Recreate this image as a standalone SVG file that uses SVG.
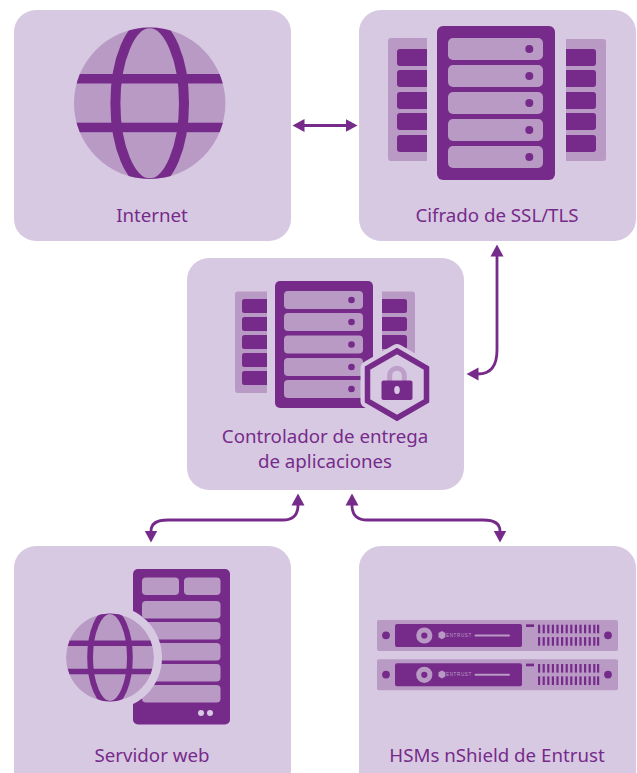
<svg xmlns="http://www.w3.org/2000/svg" xmlns:xlink="http://www.w3.org/1999/xlink" width="637" height="773" viewBox="0 0 637 773">
<style>
.card{fill:#d8c9e2}
.mid{fill:#b89ac4}
.dark{fill:#762b8a}
.bg{fill:#d8c9e2}
.lbl{font-family:"Noto Sans","Open Sans",sans-serif;font-size:18.7px;fill:#762b8a;text-anchor:middle}
.conn{fill:none;stroke:#762b8a;stroke-width:2.8;marker-start:url(#ah);marker-end:url(#ah)}
.brand{font-family:"Liberation Sans",sans-serif;font-size:4.6px;fill:#b89ac4;letter-spacing:.6px}
</style>
<defs>
<marker id="ah" markerUnits="userSpaceOnUse" markerWidth="14" markerHeight="16" refX="0.5" refY="7" orient="auto-start-reverse" viewBox="0 0 14 14"><path d="M0,0.5 L12,7 L0,13.5Z" fill="#762b8a"/></marker>
<clipPath id="gc"><circle cx="0" cy="0" r="75.700"/></clipPath>
<g id="vents">
<rect x="538" y="624.7" width="2.200" height="8.6"/><rect x="542.6" y="624.7" width="2.200" height="8.6"/><rect x="547.2" y="624.7" width="2.200" height="8.6"/><rect x="551.8" y="624.7" width="2.200" height="8.6"/><rect x="556.4" y="624.7" width="2.200" height="8.6"/><rect x="561" y="624.7" width="2.200" height="8.6"/><rect x="565.6" y="624.7" width="2.200" height="8.6"/><rect x="570.2" y="624.7" width="2.200" height="8.6"/><rect x="574.8" y="624.7" width="2.200" height="8.6"/><rect x="579.4" y="624.7" width="2.200" height="8.6"/><rect x="584" y="624.7" width="2.200" height="8.6"/><rect x="588.6" y="624.7" width="2.200" height="8.6"/><rect x="593.2" y="624.7" width="2.200" height="8.6"/><rect x="597" y="624.7" width="2.200" height="8.6"/>
</g>
<g id="hsm">
<rect class="mid" x="377" y="620" width="241" height="31" rx="2"/>
<rect class="dark" x="395" y="624" width="127" height="23" rx="2"/>
<circle class="dark" cx="386" cy="635.3" r="3.9"/><circle class="dark" cx="608" cy="635.3" r="3.9"/>
<circle cx="424.3" cy="635.5" r="5.6" fill="none" stroke="#b89ac4" stroke-width="5"/>
<path class="mid" d="M438.500,633l3.400,-1.900l3.400,1.900v4.200l-3.400,2l-3.400,-2z"/>
<text class="brand" x="446" y="637.200">ENTRUST</text>
<rect class="mid" x="474.500" y="634.500" width="35.500" height="2" rx="1"/>
<rect class="dark" x="526" y="624.300" width="8" height="2.700"/>
<use xlink:href="#vents" class="dark"/>
<use xlink:href="#vents" class="dark" y="12.400"/>
</g>
<g id="globe">
<circle class="mid" cx="0" cy="0" r="75.700"/>
<g clip-path="url(#gc)">
<ellipse cx="0" cy="0" rx="34.300" ry="80" fill="none" stroke="#762b8a" stroke-width="10"/>
<rect class="dark" x="-76" y="-29.300" width="152" height="9.500"/>
<rect class="dark" x="-76" y="19.400" width="152" height="9.500"/>
</g>
</g>
</defs>

<g id="connectors">
<path class="conn" d="M304,125.500H346"/>
<path class="conn" d="M497,256V350Q497,374 478,374"/>
<path class="conn" d="M298,505Q298,520 283,520H168Q151,520 151,531"/>
<path class="conn" d="M352,505Q352,520 367,520H483Q500,520 500,531"/>
</g>

<g id="node-internet">
<rect class="card" x="14" y="10" width="277" height="231" rx="22"/>
<use xlink:href="#globe" transform="translate(149.700,103.300)"/>
<text class="lbl" x="152" y="221.500">Internet</text>
</g>

<g id="node-ssl">
<rect class="card" x="359" y="10" width="277" height="231" rx="22"/>
<rect class="mid" x="388" y="38" width="60" height="123" rx="3"/>
<rect class="mid" x="546" y="39" width="60" height="122" rx="3"/>
<g class="dark">
<rect x="397" y="49" width="50" height="17" rx="3"/><rect x="397" y="70" width="50" height="17" rx="3"/><rect x="397" y="92" width="50" height="17" rx="3"/><rect x="397" y="113" width="50" height="17" rx="3"/><rect x="397" y="135" width="50" height="17" rx="3"/>
<rect x="546" y="49" width="50" height="17" rx="3"/><rect x="546" y="70" width="50" height="17" rx="3"/><rect x="546" y="92" width="50" height="17" rx="3"/><rect x="546" y="113" width="50" height="17" rx="3"/><rect x="546" y="135" width="50" height="17" rx="3"/>
</g>
<rect class="bg" x="427" y="30" width="139" height="140"/>
<rect class="dark" x="437" y="26" width="118" height="154" rx="6"/>
<g class="mid">
<rect x="448" y="38" width="95" height="22" rx="5"/><rect x="448" y="65" width="95" height="22" rx="5"/><rect x="448" y="92" width="95" height="22" rx="5"/><rect x="448" y="119" width="95" height="22" rx="5"/><rect x="448" y="146" width="95" height="22" rx="5"/>
</g>
<g class="dark">
<circle cx="529.300" cy="49" r="4"/><circle cx="529.300" cy="76" r="4"/><circle cx="529.300" cy="103" r="4"/><circle cx="529.300" cy="130" r="4"/><circle cx="529.300" cy="157" r="4"/>
</g>
<text class="lbl" x="497" y="222">Cifrado de SSL/TLS</text>
</g>

<g id="node-adc">
<rect class="card" x="187" y="258" width="277" height="232" rx="22"/>
<rect class="mid" x="235" y="291.500" width="50" height="101.500" rx="3"/>
<rect class="mid" x="365" y="291.500" width="50" height="101.500" rx="3"/>
<g class="dark">
<rect x="242" y="299" width="40" height="14" rx="2.500"/><rect x="242" y="317" width="40" height="14" rx="2.500"/><rect x="242" y="335" width="40" height="14" rx="2.500"/><rect x="242" y="353" width="40" height="14" rx="2.500"/><rect x="242" y="371" width="40" height="14" rx="2.500"/>
<rect x="367" y="299" width="40" height="14" rx="2.500"/><rect x="367" y="317" width="40" height="14" rx="2.500"/><rect x="367" y="335" width="40" height="14" rx="2.500"/><rect x="367" y="353" width="40" height="14" rx="2.500"/><rect x="367" y="371" width="40" height="14" rx="2.500"/>
</g>
<rect class="bg" x="267" y="285" width="115" height="115"/>
<rect class="dark" x="275" y="281" width="98" height="127" rx="5"/>
<g class="mid">
<rect x="284" y="291" width="79" height="18" rx="4"/><rect x="284" y="313" width="79" height="18" rx="4"/><rect x="284" y="335.500" width="79" height="18" rx="4"/><rect x="284" y="358" width="79" height="18" rx="4"/><rect x="284" y="380" width="79" height="18" rx="4"/>
</g>
<g class="dark">
<circle cx="351.500" cy="300" r="3.300"/><circle cx="351.500" cy="322" r="3.300"/><circle cx="351.500" cy="344.500" r="3.300"/><circle cx="351.500" cy="367" r="3.300"/><circle cx="351.500" cy="389" r="3.300"/>
</g>
<polygon points="397,351 426.500,368 426.500,401 397,418 367.500,401 367.500,368" fill="#d8c9e2" stroke="#d8c9e2" stroke-width="14" stroke-linejoin="round"/>
<polygon points="397,351 426.500,368 426.500,401 397,418 367.500,401 367.500,368" fill="#d8c9e2" stroke="#762b8a" stroke-width="5.500"/>
<path d="M389.700,382V375.500a7.300,7.300 0 0 1 14.600,0V382" fill="none" stroke="#bd9fca" stroke-width="5"/>
<rect class="dark" x="381.500" y="380.500" width="31" height="19.500" rx="2"/>
<ellipse cx="397" cy="390" rx="2.800" ry="4" fill="#d8c9e2"/>
<text class="lbl" x="325" y="443">Controlador de entrega</text>
<text class="lbl" x="325" y="468">de aplicaciones</text>
</g>

<g id="node-web">
<rect class="card" x="14" y="546" width="277" height="250" rx="22"/>
<rect class="dark" x="133" y="569" width="97" height="155.500" rx="5"/>
<g class="mid">
<rect x="142" y="577.500" width="37" height="17.500" rx="4"/><rect x="184" y="577.500" width="36.500" height="17.500" rx="4"/>
<rect x="142" y="601" width="78.500" height="17.500" rx="4"/><rect x="142" y="622" width="78.500" height="17.500" rx="4"/><rect x="142" y="643" width="78.500" height="17.500" rx="4"/><rect x="142" y="664" width="78.500" height="17.500" rx="4"/><rect x="142" y="685" width="78.500" height="17.500" rx="4"/>
</g>
<circle class="bg" cx="201" cy="713" r="3"/><circle class="bg" cx="210" cy="713" r="3"/>
<circle class="bg" cx="110" cy="657.500" r="52"/>
<use xlink:href="#globe" transform="translate(110,657.500) scale(.58)"/>
<text class="lbl" x="152" y="762">Servidor web</text>
</g>

<g id="node-hsm">
<rect class="card" x="359" y="546" width="277" height="250" rx="22"/>
<use xlink:href="#hsm"/>
<use xlink:href="#hsm" y="39.300"/>
<text class="lbl" x="497" y="762">HSMs nShield de Entrust</text>
</g>
</svg>
